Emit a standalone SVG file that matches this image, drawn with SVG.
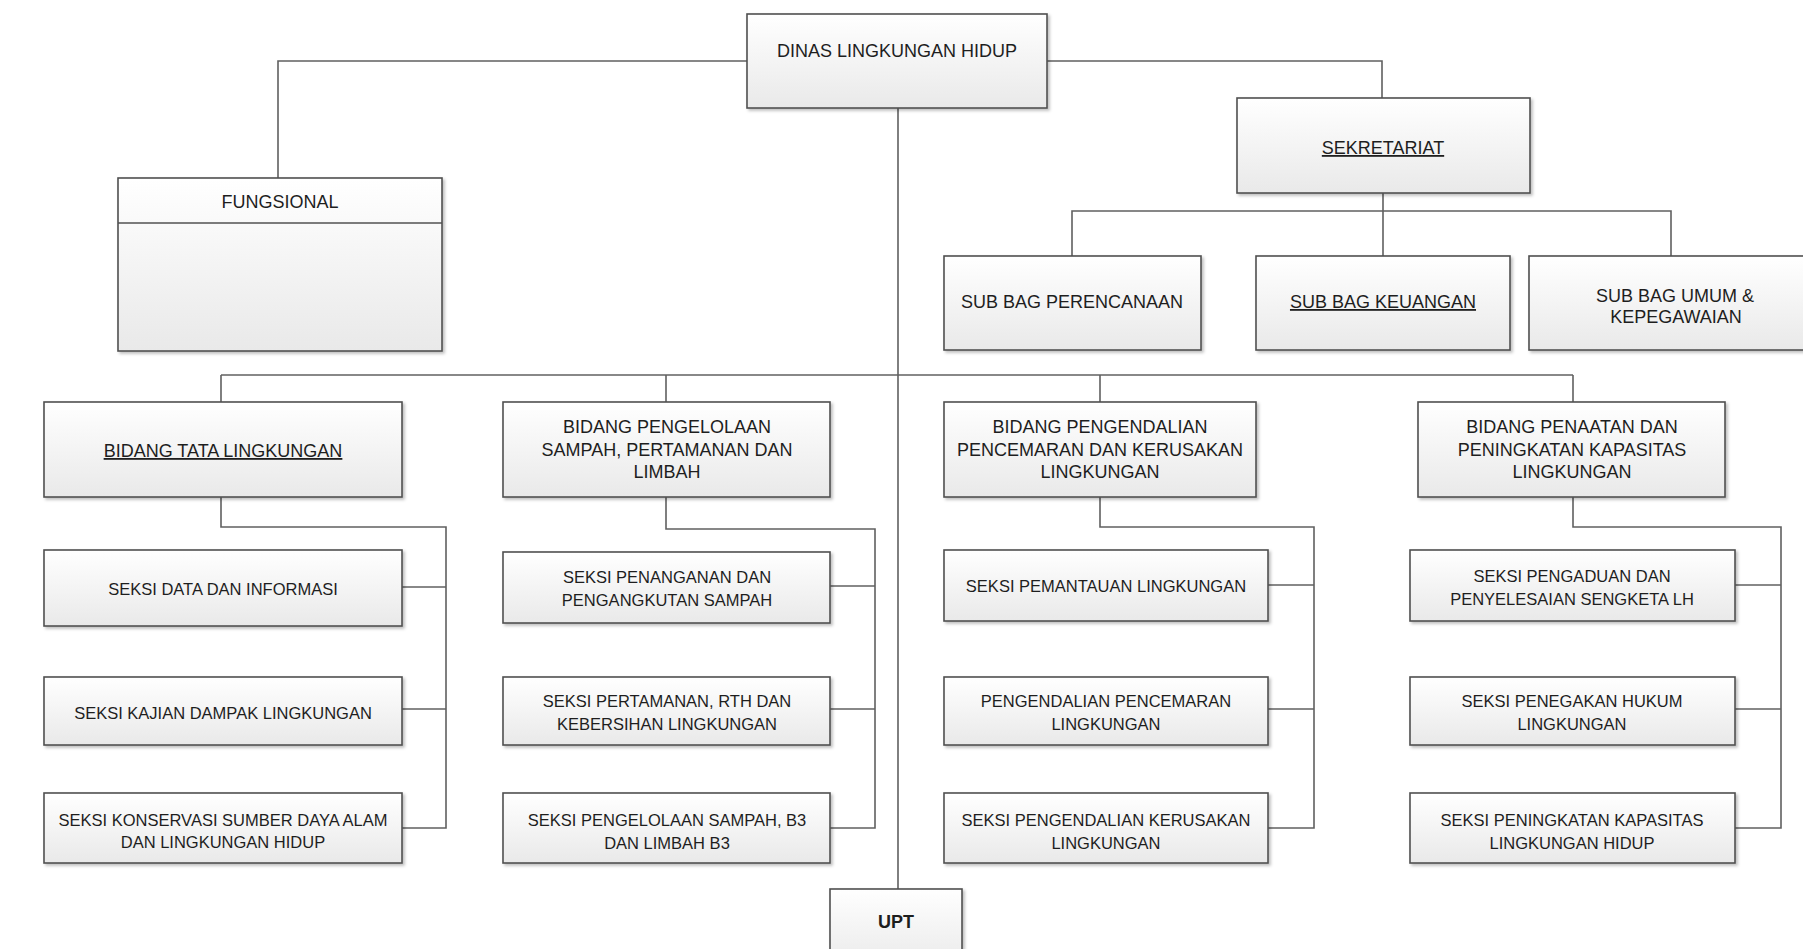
<svg xmlns="http://www.w3.org/2000/svg" width="1803" height="949" viewBox="0 0 1803 949">
<defs>
<linearGradient id="g" x1="0" y1="0" x2="0" y2="1">
<stop offset="0" stop-color="#ffffff"/>
<stop offset="1" stop-color="#e9e9e9"/>
</linearGradient>
<filter id="sh" x="-5%" y="-5%" width="115%" height="125%">
<feDropShadow dx="2" dy="2" stdDeviation="1.5" flood-color="#000" flood-opacity="0.25"/>
</filter>
</defs>
<style>
.b{fill:url(#g);stroke:#505050;stroke-width:1.6;filter:url(#sh)}
.c{fill:none;stroke:#606060;stroke-width:1.6}
text{font-family:"Liberation Sans",Arial,sans-serif;fill:#1e1e1e;text-anchor:middle}
.h{font-size:18px}
.s{font-size:16.5px}
.u{text-decoration:underline}
</style>
<rect width="1803" height="949" fill="#ffffff"/>

<g id="connectors">
<polyline class="c" points="747,61 278,61 278,178"/>
<polyline class="c" points="1047,61 1382,61 1382,98"/>
<line class="c" x1="898" y1="108" x2="898" y2="889"/>
<line class="c" x1="1383" y1="193" x2="1383" y2="256"/>
<polyline class="c" points="1072,256 1072,211 1671,211 1671,256"/>
<line class="c" x1="221" y1="375" x2="1573" y2="375"/>
<line class="c" x1="221" y1="375" x2="221" y2="402"/>
<line class="c" x1="666" y1="375" x2="666" y2="402"/>
<line class="c" x1="1100" y1="375" x2="1100" y2="402"/>
<line class="c" x1="1573" y1="375" x2="1573" y2="402"/>
<polyline class="c" points="221,497 221,527 446,527 446,828 402,828"/>
<line class="c" x1="402" y1="587" x2="446" y2="587"/>
<line class="c" x1="402" y1="709" x2="446" y2="709"/>
<polyline class="c" points="666,497 666,529 875,529 875,828 830,828"/>
<line class="c" x1="830" y1="586" x2="875" y2="586"/>
<line class="c" x1="830" y1="709" x2="875" y2="709"/>
<polyline class="c" points="1100,497 1100,527 1314,527 1314,828 1268,828"/>
<line class="c" x1="1268" y1="585" x2="1314" y2="585"/>
<line class="c" x1="1268" y1="709" x2="1314" y2="709"/>
<polyline class="c" points="1573,497 1573,527 1781,527 1781,828 1735,828"/>
<line class="c" x1="1735" y1="585" x2="1781" y2="585"/>
<line class="c" x1="1735" y1="709" x2="1781" y2="709"/>
</g>

<g id="dinas">
<rect class="b" x="747" y="14" width="300" height="94"/>
<text class="h" x="897" y="57">DINAS LINGKUNGAN HIDUP</text>
</g>

<g id="fungsional">
<rect class="b" x="118" y="178" width="324" height="173"/>
<line x1="118" y1="223" x2="442" y2="223" stroke="#505050" stroke-width="1.6"/>
<text class="h" x="280" y="208">FUNGSIONAL</text>
</g>

<g id="sekretariat">
<rect class="b" x="1237" y="98" width="293" height="95"/>
<text class="h u" x="1383" y="154">SEKRETARIAT</text>
</g>

<g id="subbag-perencanaan">
<rect class="b" x="944" y="256" width="257" height="94"/>
<text class="h" x="1072" y="308">SUB BAG PERENCANAAN</text>
</g>

<g id="subbag-keuangan">
<rect class="b" x="1256" y="256" width="254" height="94"/>
<text class="h u" x="1383" y="308">SUB BAG KEUANGAN</text>
</g>

<g id="subbag-umum">
<rect class="b" x="1529" y="256" width="290" height="94"/>
<text class="h" x="1675" y="302">SUB BAG UMUM &amp;</text>
<text class="h" x="1676" y="323">KEPEGAWAIAN</text>
</g>

<g id="bidang-tata">
<rect class="b" x="44" y="402" width="358" height="95"/>
<text class="h u" x="223" y="457">BIDANG TATA LINGKUNGAN</text>
</g>

<g id="bidang-pengelolaan">
<rect class="b" x="503" y="402" width="327" height="95"/>
<text class="h" x="667" y="433">BIDANG PENGELOLAAN</text>
<text class="h" x="667" y="456">SAMPAH, PERTAMANAN DAN</text>
<text class="h" x="667" y="478">LIMBAH</text>
</g>

<g id="bidang-pengendalian">
<rect class="b" x="944" y="402" width="312" height="95"/>
<text class="h" x="1100" y="433">BIDANG PENGENDALIAN</text>
<text class="h" x="1100" y="456">PENCEMARAN DAN KERUSAKAN</text>
<text class="h" x="1100" y="478">LINGKUNGAN</text>
</g>

<g id="bidang-penaatan">
<rect class="b" x="1418" y="402" width="307" height="95"/>
<text class="h" x="1572" y="433">BIDANG PENAATAN DAN</text>
<text class="h" x="1572" y="456">PENINGKATAN KAPASITAS</text>
<text class="h" x="1572" y="478">LINGKUNGAN</text>
</g>

<g id="seksi-data">
<rect class="b" x="44" y="550" width="358" height="76"/>
<text class="s" x="223" y="595">SEKSI DATA DAN INFORMASI</text>
</g>
<g id="seksi-kajian">
<rect class="b" x="44" y="677" width="358" height="68"/>
<text class="s" x="223" y="719">SEKSI KAJIAN DAMPAK LINGKUNGAN</text>
</g>
<g id="seksi-konservasi">
<rect class="b" x="44" y="793" width="358" height="70"/>
<text class="s" x="223" y="826">SEKSI KONSERVASI SUMBER DAYA ALAM</text>
<text class="s" x="223" y="848">DAN LINGKUNGAN HIDUP</text>
</g>

<g id="seksi-penanganan">
<rect class="b" x="503" y="552" width="327" height="71"/>
<text class="s" x="667" y="583">SEKSI PENANGANAN DAN</text>
<text class="s" x="667" y="606">PENGANGKUTAN SAMPAH</text>
</g>
<g id="seksi-pertamanan">
<rect class="b" x="503" y="677" width="327" height="68"/>
<text class="s" x="667" y="707">SEKSI PERTAMANAN, RTH DAN</text>
<text class="s" x="667" y="730">KEBERSIHAN LINGKUNGAN</text>
</g>
<g id="seksi-pengelolaan-b3">
<rect class="b" x="503" y="793" width="327" height="70"/>
<text class="s" x="667" y="826">SEKSI PENGELOLAAN SAMPAH, B3</text>
<text class="s" x="667" y="849">DAN LIMBAH B3</text>
</g>

<g id="seksi-pemantauan">
<rect class="b" x="944" y="550" width="324" height="71"/>
<text class="s" x="1106" y="592">SEKSI PEMANTAUAN LINGKUNGAN</text>
</g>
<g id="pengendalian-pencemaran">
<rect class="b" x="944" y="677" width="324" height="68"/>
<text class="s" x="1106" y="707">PENGENDALIAN PENCEMARAN</text>
<text class="s" x="1106" y="730">LINGKUNGAN</text>
</g>
<g id="seksi-kerusakan">
<rect class="b" x="944" y="793" width="324" height="70"/>
<text class="s" x="1106" y="826">SEKSI PENGENDALIAN KERUSAKAN</text>
<text class="s" x="1106" y="849">LINGKUNGAN</text>
</g>

<g id="seksi-pengaduan">
<rect class="b" x="1410" y="550" width="325" height="71"/>
<text class="s" x="1572" y="582">SEKSI PENGADUAN DAN</text>
<text class="s" x="1572" y="605">PENYELESAIAN SENGKETA LH</text>
</g>
<g id="seksi-penegakan">
<rect class="b" x="1410" y="677" width="325" height="68"/>
<text class="s" x="1572" y="707">SEKSI PENEGAKAN HUKUM</text>
<text class="s" x="1572" y="730">LINGKUNGAN</text>
</g>
<g id="seksi-peningkatan">
<rect class="b" x="1410" y="793" width="325" height="70"/>
<text class="s" x="1572" y="826">SEKSI PENINGKATAN KAPASITAS</text>
<text class="s" x="1572" y="849">LINGKUNGAN HIDUP</text>
</g>

<g id="upt">
<rect class="b" x="830" y="889" width="132" height="80"/>
<text class="h" x="896" y="928" font-weight="bold">UPT</text>
</g>
</svg>
